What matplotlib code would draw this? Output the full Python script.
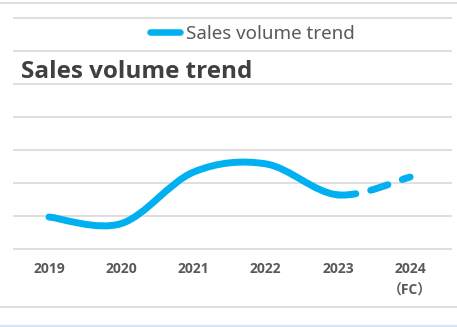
import matplotlib
matplotlib.use("Agg")
import matplotlib.pyplot as plt
from matplotlib.path import Path
from matplotlib.patches import PathPatch
from matplotlib.lines import Line2D

plt.rcParams['lines.scale_dashes'] = False

# data
years = ['2019', '2020', '2021', '2022', '2023', '2024\n（FC）']
volume = [0.97, 0.77, 2.33, 2.58, 1.64, 2.18]
series_name = 'Sales volume trend'
title = 'Sales volume trend'

blue = '#00B0F0'
grid_c = '#D9D9D9'
text_c = '#595959'

W, H = 457, 327
fig = plt.figure(figsize=(W / 100, H / 100), dpi=100)

# axes placed so gridlines land on the reference pixel rows
top_px, bot_px = 16.35, 250.65
left_px, right_px = 13, 452
ax = fig.add_axes([left_px / W, (H - bot_px) / H,
                   (right_px - left_px) / W, (bot_px - top_px) / H])
ax.set_ylim(-0.05, 7.05)
ax.set_xlim(-0.4986, 5.58)
for s in ax.spines.values():
    s.set_visible(False)
ax.set_yticks(range(8))
ax.yaxis.set_tick_params(length=0, labelleft=False)
ax.grid(axis='y', color=grid_c, linewidth=1.2)
ax.set_axisbelow(True)

x = list(range(len(years)))
ax.set_xticks(x)
ax.set_xticklabels(years, family=['Open Sans', 'Noto Sans CJK JP'],
                   fontsize=10, fontweight='bold', color=text_c,
                   linespacing=1.75, va='top')
ax.xaxis.set_tick_params(length=0, pad=8)


# smoothed line (Excel style bezier) built from the data points
def bezier(i0, i1):
    n = len(x)
    verts = [(x[i0], volume[i0])]
    codes = [Path.MOVETO]
    for i in range(i0, i1):
        p0 = max(i - 1, 0)
        p3 = min(i + 2, n - 1)
        c1 = (x[i] + (x[i + 1] - x[p0]) / 6, volume[i] + (volume[i + 1] - volume[p0]) / 6)
        c2 = (x[i + 1] - (x[p3] - x[i]) / 6, volume[i + 1] - (volume[p3] - volume[i]) / 6)
        verts += [c1, c2, (x[i + 1], volume[i + 1])]
        codes += [Path.CURVE4] * 3
    return Path(verts, codes)


solid = PathPatch(bezier(0, 4), fill=False, edgecolor=blue, linewidth=5,
                  capstyle='round', joinstyle='round')
dashed = PathPatch(bezier(4, 5), fill=False, edgecolor=blue, linewidth=5,
                   capstyle='round', joinstyle='round', linestyle=(0, (13, 11)))
ax.add_patch(solid)
ax.add_patch(dashed)

# legend
handle = Line2D([], [], color=blue, linewidth=4.7, solid_capstyle='round')
fig.legend([handle], [series_name], loc='center left',
           bbox_to_anchor=(133 / W, 1 - 34 / H), frameon=False,
           handlelength=1.6, handletextpad=0.3,
           prop={'family': 'Noto Sans', 'size': 13.5}, labelcolor=text_c)

fig.text(21 / W, 1 - 72 / H, title, fontsize=17.5, fontweight='bold',
         family='Open Sans', color='#404040', va='center', ha='left')

# frame lines around the picture
fig.add_artist(Line2D([0, 1], [1 - 2.5 / H, 1 - 2.5 / H], color=grid_c, linewidth=1.2))
fig.add_artist(Line2D([0, 1], [1 - 307 / H, 1 - 307 / H], color=grid_c, linewidth=1.2))
fig.add_artist(Line2D([0, 1], [1 - 325.5 / H, 1 - 325.5 / H], color='#DAE3F3', linewidth=1.5))

fig.savefig('out.png', dpi=100)
